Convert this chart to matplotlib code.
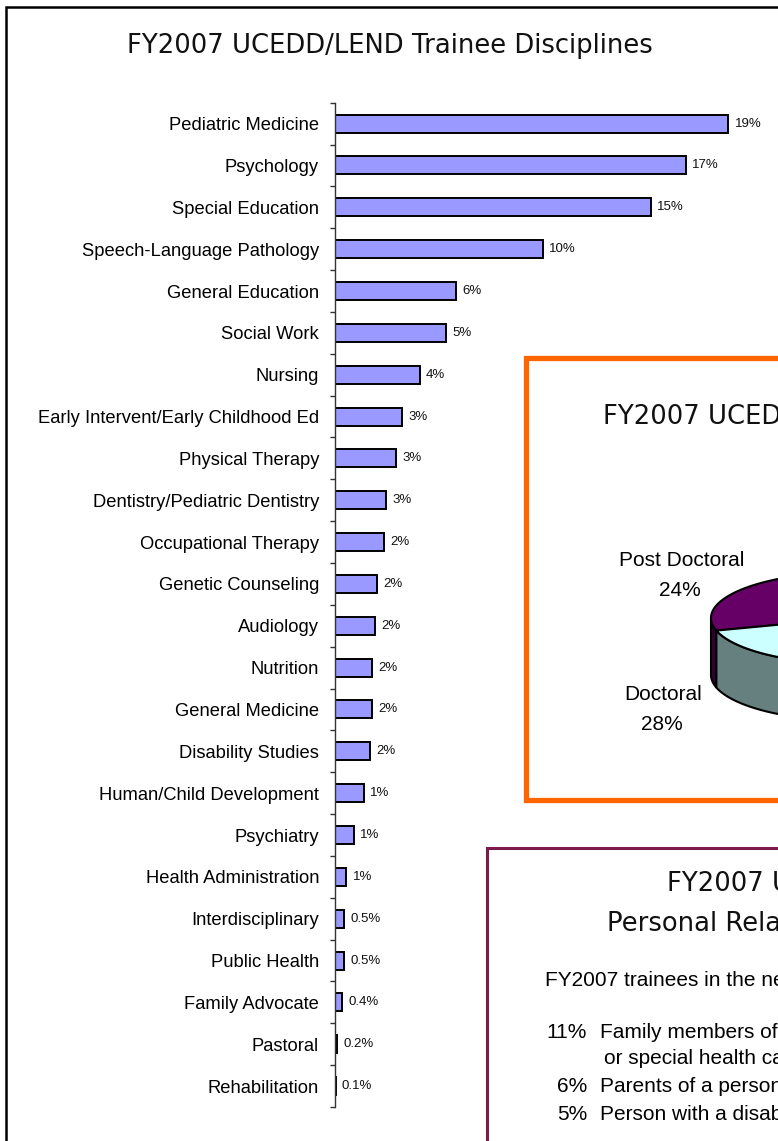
import numpy as np
import matplotlib
matplotlib.use('Agg')
import matplotlib.pyplot as plt
from matplotlib.patches import Rectangle, Polygon

# bar chart data (top to bottom)
disciplines = ['Pediatric Medicine', 'Psychology', 'Special Education',
               'Speech-Language Pathology', 'General Education', 'Social Work',
               'Nursing', 'Early Intervent/Early Childhood Ed', 'Physical Therapy',
               'Dentistry/Pediatric Dentistry', 'Occupational Therapy',
               'Genetic Counseling', 'Audiology', 'Nutrition', 'General Medicine',
               'Disability Studies', 'Human/Child Development', 'Psychiatry',
               'Health Administration', 'Interdisciplinary', 'Public Health',
               'Family Advocate', 'Pastoral', 'Rehabilitation']
shares = [19.0, 16.95, 15.25, 10.05, 5.85, 5.35, 4.1, 3.25, 2.95, 2.45, 2.35,
          2.05, 1.95, 1.8, 1.8, 1.7, 1.4, 0.9, 0.55, 0.45, 0.45, 0.35, 0.12, 0.03]
share_labels = ['19%', '17%', '15%', '10%', '6%', '5%', '4%', '3%', '3%', '3%',
                '2%', '2%', '2%', '2%', '2%', '2%', '1%', '1%', '1%', '0.5%',
                '0.5%', '0.4%', '0.2%', '0.1%']

# pie data (only the left part of the pie is on the page)
levels = ['Post Doctoral', 'Doctoral', 'Other']
level_pct = [24, 28, 48]
level_top = ['#660066', '#CCFFFF', '#9999FF']
level_side = ['#330033', '#668080', '#4D4D80']

# relationship text box
rel_pct = ['11%', '', '6%', '5%']
rel_text = ['Family members of a person with a disability',
            'or special health care needs',
            'Parents of a person with a disability',
            'Person with a disability']

W, H = 778, 1141
fig = plt.figure(figsize=(W / 100, H / 100), dpi=100)
fig.patch.set_facecolor('white')


def fx(px):
    return px / W


def fy(py):
    return 1 - py / H


# outer slide frame
fig.add_artist(Rectangle((fx(6.5), fy(1200)), fx(900), (1200 - 6.5) / H,
                         transform=fig.transFigure, fill=False,
                         edgecolor='black', lw=1.8, zorder=1))

fig.text(fx(390), fy(46), 'FY2007 UCEDD/LEND Trainee Disciplines',
         family='DejaVu Sans', fontsize=18.6, ha='center', va='center',
         color='#111111')

# ---- bar chart ----
ppu = 20.7  # pixels per percent
top_px, bot_px = 102.7, 1107
ax = fig.add_axes([fx(335), fy(bot_px), fx(443), (bot_px - top_px) / H])
ax.set_zorder(1)
y = np.arange(len(disciplines))
ax.barh(y, shares, height=0.43, color='#9999FF', edgecolor='black',
        linewidth=1.4, zorder=2)
for i, (v, lab) in enumerate(zip(shares, share_labels)):
    ax.annotate(lab, (v, i), xytext=(4.5, 0), textcoords='offset points',
                va='center', ha='left', fontsize=9.5,
                family='Liberation Sans', color='#111111')
ax.set_xlim(0, 443 / ppu)
ax.set_ylim(len(disciplines) - 0.5, -0.5)
ax.set_yticks(y)
ax.set_yticklabels(disciplines, family='Liberation Sans', fontsize=13.2)
ax.set_yticks(np.arange(len(disciplines) + 1) - 0.5, minor=True)
ax.tick_params(axis='y', which='major', length=0, pad=11.5)
ax.tick_params(axis='y', which='minor', direction='out', length=3.8,
               width=1, color='#333333')
ax.set_xticks([])
for s in ['top', 'right', 'bottom']:
    ax.spines[s].set_visible(False)
ax.spines['left'].set_color('#333333')
ax.spines['left'].set_linewidth(1)
ax.spines['left'].set_zorder(3)
ax.patch.set_alpha(0)

# ---- pie panel ----
fig.add_artist(Rectangle((fx(525.5), fy(800)), fx(500), (800 - 357.5) / H,
                         transform=fig.transFigure, facecolor='white',
                         edgecolor='#FF6600', lw=3.8, zorder=2))
fig.text(fx(603), fy(417), 'FY2007 UCEDD/LEND Trainee Levels',
         family='DejaVu Sans', fontsize=18.6, ha='left', va='center',
         color='#111111', zorder=4)

cx, cy, rx, ry, depth = 850, 618, 139, 45.6, 57
d = depth / ry
xr, yr = (-1.05, 1.05), (-1 - d - 0.1, 1.05)
pax = fig.add_axes([fx(cx + xr[0] * rx), fy(cy - yr[0] * ry),
                    (xr[1] - xr[0]) * rx / W, (yr[1] - yr[0]) * ry / H])
pax.set_zorder(3)
pax.set_xlim(*xr)
pax.set_ylim(*yr)
pax.axis('off')

start = 196 - level_pct[0] * 3.6
edges = start + np.concatenate([[0], np.cumsum(level_pct)]) * 3.6
for k in range(len(levels)):
    t1, t2 = edges[k], edges[k + 1]
    # visible front wall (180..360 deg)
    for lo, hi in [(180, 360), (540, 720)]:
        a1, a2 = max(t1, lo), min(t2, hi)
        if a2 > a1:
            t = np.radians(np.linspace(a1, a2, 60))
            pts = np.vstack([np.column_stack([np.cos(t), np.sin(t)]),
                             np.column_stack([np.cos(t[::-1]), np.sin(t[::-1]) - d])])
            pax.add_patch(Polygon(pts, closed=True, facecolor=level_side[k],
                                  edgecolor='black', lw=1.5, zorder=1,
                                  clip_on=False))
for k in range(len(levels)):
    t = np.radians(np.linspace(edges[k], edges[k + 1], 120))
    pts = np.vstack([[0, 0], np.column_stack([np.cos(t), np.sin(t)])])
    pax.add_patch(Polygon(pts, closed=True, facecolor=level_top[k],
                          edgecolor='black', lw=1.5, zorder=2, clip_on=False))

fig.text(fx(682), fy(560), levels[0], family='Liberation Sans', fontsize=15,
         ha='center', va='center', zorder=5)
fig.text(fx(680), fy(590), f'{level_pct[0]}%', family='Liberation Sans',
         fontsize=15, ha='center', va='center', zorder=5)
fig.text(fx(663), fy(695), levels[1], family='Liberation Sans', fontsize=15,
         ha='center', va='center', zorder=5)
fig.text(fx(662), fy(724), f'{level_pct[1]}%', family='Liberation Sans',
         fontsize=15, ha='center', va='center', zorder=5)

# ---- relationship panel ----
fig.add_artist(Rectangle((fx(486.5), fy(1300)), fx(500), (1300 - 847.5) / H,
                         transform=fig.transFigure, facecolor='white',
                         edgecolor='#7B1A4B', lw=2.2, zorder=2))
fig.text(fx(667), fy(884), 'FY2007 UCEDD/LEND Trainees',
         family='DejaVu Sans', fontsize=18.6, ha='left', va='center',
         color='#111111', zorder=4)
fig.text(fx(607), fy(924), 'Personal Relationship to Disability',
         family='DejaVu Sans', fontsize=18.6, ha='left', va='center',
         color='#111111', zorder=4)
fig.text(fx(545), fy(980), 'FY2007 trainees in the network included:',
         family='Liberation Sans', fontsize=15, ha='left', va='center',
         zorder=4)
rows_y = [1032, 1059, 1087, 1115]
for p, t, yy in zip(rel_pct, rel_text, rows_y):
    if p:
        fig.text(fx(587), fy(yy), p, family='Liberation Sans', fontsize=15,
                 ha='right', va='center', zorder=4)
        fig.text(fx(600), fy(yy), t, family='Liberation Sans', fontsize=15,
                 ha='left', va='center', zorder=4)
    else:
        fig.text(fx(604), fy(yy), t, family='Liberation Sans', fontsize=15,
                 ha='left', va='center', zorder=4)

fig.savefig('out.png', dpi=100)
